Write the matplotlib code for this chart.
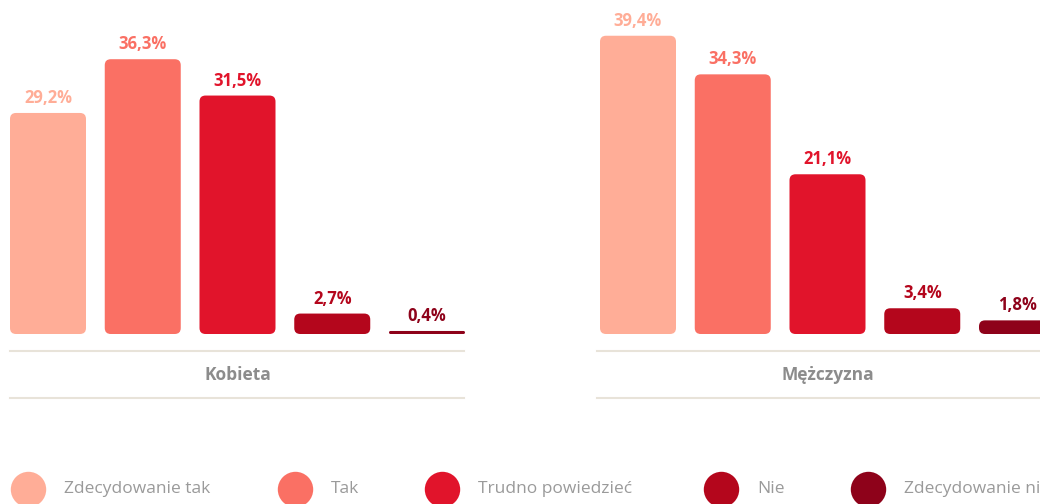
import matplotlib
matplotlib.use('Agg')
import matplotlib.pyplot as plt
from matplotlib.patches import FancyBboxPatch
from matplotlib.lines import Line2D

# Dane z wykresu
odpowiedzi = ['Zdecydowanie tak', 'Tak', 'Trudno powiedzieć', 'Nie', 'Zdecydowanie nie']
plec = ['Kobieta', 'Mężczyzna']
kobieta = [29.2, 36.3, 31.5, 2.7, 0.4]
mezczyzna = [39.4, 34.3, 21.1, 3.4, 1.8]
kolory = ['#FFAD97', '#FA7064', '#E1142B', '#B4061C', '#8E021A']

plt.rcParams['font.family'] = ['Open Sans', 'DejaVu Sans']

W, H = 1040, 504
fig = plt.figure(figsize=(W / 100, H / 100), dpi=100)

# Geometria (piksele)
pitch = 94.75
bar_px = 76
px_per_pct = 7.57
baseline = 334
szer = bar_px / pitch


def panel(left_px, wartosci, etykieta, linia_od, linia_do):
    ax = fig.add_axes([left_px / W, (H - baseline) / H, 5 * pitch / W, baseline / H])
    ax.set_xlim(-0.5, 4.5)
    ax.set_ylim(0, baseline / px_per_pct)
    ax.axis('off')

    rx = 6 / pitch
    aspect = (6 / px_per_pct) / rx
    for i, (v, c) in enumerate(zip(wartosci, kolory)):
        r = min(rx, v / aspect / 2)
        p = FancyBboxPatch((i - szer / 2, 0), szer, v,
                           boxstyle=f'round,pad=0,rounding_size={r}',
                           mutation_aspect=aspect, facecolor=c, edgecolor='none',
                           clip_on=False)
        ax.add_patch(p)
        ax.annotate(f'{v:.1f}%'.replace('.', ','), (i, v), xytext=(0, 7.2),
                    textcoords='offset points', ha='center', va='baseline',
                    color=c, fontsize=12, fontweight='bold')

    # linie oddzielające i podpis kategorii
    for y in (351, 398):
        fig.add_artist(Line2D([linia_od / W, linia_do / W], [1 - y / H, 1 - y / H],
                              color='#E8E3D9', lw=1.5))
    ax.text(2, (baseline - 375) / baseline, etykieta, transform=ax.get_xaxis_transform(),
            ha='center', va='center', color='#8C8C8C', fontsize=12.5, fontweight='bold')
    return ax


panel(48 - pitch / 2, kobieta, plec[0], 10, 464)
panel(638 - pitch / 2, mezczyzna, plec[1], 597, 1040)

# Legenda
leg_x = [28, 295, 442, 721, 868]
leg_y = 1 - 489 / H
for x, lab, c in zip(leg_x, odpowiedzi, kolory):
    fig.add_artist(Line2D([x / W], [leg_y], marker='o', markersize=25.5,
                          markerfacecolor=c, markeredgecolor='none', linestyle='none'))
    fig.text((x + 36) / W, leg_y, lab, ha='left', va='center', color='#9A9A9A',
             fontsize=12.5, fontweight='normal')

fig.savefig('out.png', dpi=100, facecolor='white')
